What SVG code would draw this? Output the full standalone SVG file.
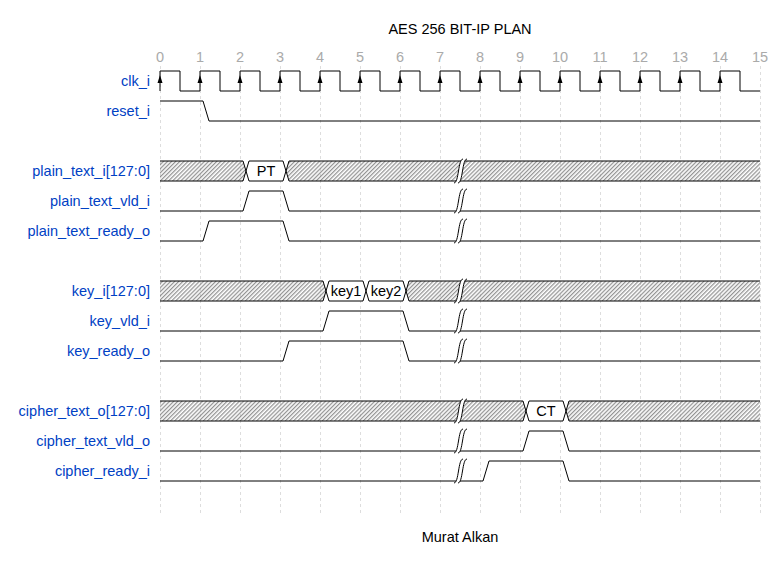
<svg xmlns="http://www.w3.org/2000/svg" xmlns:xlink="http://www.w3.org/1999/xlink" width="780" height="562" viewBox="0 0 780 562">
<style>
text{font-family:"Liberation Sans",Arial,sans-serif;font-size:14.5px}
.lbl{fill:#0041c4;text-anchor:end}
.tick{fill:#aaaaaa;text-anchor:middle}
.ttl{fill:#000;text-anchor:middle}
.dat{fill:#000;text-anchor:middle}
.grid{stroke:#dddddd;stroke-width:1;stroke-dasharray:3,3;fill:none}
.w{stroke:#000;stroke-width:1;fill:none}
.hx{fill:url(#hatch);stroke:none}
.dw{fill:#fff;stroke:none}
</style>
<defs>
<pattern id="hatch" patternUnits="userSpaceOnUse" width="2.9" height="10" patternTransform="rotate(45)">
<line x1="0.7" y1="-1" x2="0.7" y2="11" stroke="#777" stroke-width="1"/>
</pattern>
<g id="gap">
<path d="M-6,12 C-1,12 -2,-12 3,-12 L7,-12 C2,-12 3,12 -2,12 Z" fill="#fff" stroke="none"/>
<path d="M-6,12 C-1,12 -2,-12 3,-12 M-2,12 C3,12 2,-12 7,-12" fill="none" stroke="#000" stroke-width="1"/>
</g>
<path id="arr" d="M-2.5,83 L0,75 L2.5,83 Z" fill="#000"/>
</defs>
<rect width="780" height="562" fill="#fff"/>
<g id="title"><text class="ttl" x="460" y="34">AES 256 BIT-IP PLAN</text></g>
<g id="grid">
<path class="grid" d="M160.5,66V516M200.5,66V516M240.5,66V516M280.5,66V516M320.5,66V516M360.5,66V516M400.5,66V516M440.5,66V516M480.5,66V516M520.5,66V516M560.5,66V516M600.5,66V516M640.5,66V516M680.5,66V516M720.5,66V516M760.5,66V516"/>
</g>
<g id="ticks">
<text class="tick" x="160" y="62">0</text><text class="tick" x="200" y="62">1</text><text class="tick" x="240" y="62">2</text><text class="tick" x="280" y="62">3</text><text class="tick" x="320" y="62">4</text><text class="tick" x="360" y="62">5</text><text class="tick" x="400" y="62">6</text><text class="tick" x="440" y="62">7</text><text class="tick" x="480" y="62">8</text><text class="tick" x="520" y="62">9</text><text class="tick" x="560" y="62">10</text><text class="tick" x="600" y="62">11</text><text class="tick" x="640" y="62">12</text><text class="tick" x="680" y="62">13</text><text class="tick" x="720" y="62">14</text><text class="tick" x="760" y="62">15</text>
</g>
<g id="labels">
<text class="lbl" x="150" y="86">clk_i</text>
<text class="lbl" x="150" y="116">reset_i</text>
<text class="lbl" x="150" y="176">plain_text_i[127:0]</text>
<text class="lbl" x="150" y="206">plain_text_vld_i</text>
<text class="lbl" x="150" y="236">plain_text_ready_o</text>
<text class="lbl" x="150" y="296">key_i[127:0]</text>
<text class="lbl" x="150" y="326">key_vld_i</text>
<text class="lbl" x="150" y="356">key_ready_o</text>
<text class="lbl" x="150" y="416">cipher_text_o[127:0]</text>
<text class="lbl" x="150" y="446">cipher_text_vld_o</text>
<text class="lbl" x="150" y="476">cipher_ready_i</text>
</g>
<g id="clk_i">
<path class="w" d="M160,91V71H180V91H200V71H220V91H240V71H260V91H280V71H300V91H320V71H340V91H360V71H380V91H400V71H420V91H440V71H460V91H480V71H500V91H520V71H540V91H560V71H580V91H600V71H620V91H640V71H660V91H680V71H700V91H720V71H740V91H760"/>
<use xlink:href="#arr" x="160"/><use xlink:href="#arr" x="200"/><use xlink:href="#arr" x="240"/><use xlink:href="#arr" x="280"/><use xlink:href="#arr" x="320"/><use xlink:href="#arr" x="360"/><use xlink:href="#arr" x="400"/><use xlink:href="#arr" x="440"/><use xlink:href="#arr" x="480"/><use xlink:href="#arr" x="520"/><use xlink:href="#arr" x="560"/><use xlink:href="#arr" x="600"/><use xlink:href="#arr" x="640"/><use xlink:href="#arr" x="680"/><use xlink:href="#arr" x="720"/>
</g>
<g id="reset_i"><path class="w" d="M160,101H203L209,121H760"/></g>
<g id="plain_text_i">
<path class="hx" d="M160,161H243L246,171L243,181H160Z"/>
<path class="dw" d="M246,171L249,161H283L286,171L283,181H249Z"/>
<path class="hx" d="M286,171L289,161H760V181H289Z"/>
<path class="w" d="M160,161H243L246,171L249,161H283L286,171L289,161H760M160,181H243L246,171L249,181H283L286,171L289,181H760"/>
<text class="dat" x="266" y="176">PT</text>
<use xlink:href="#gap" x="460" y="171"/>
</g>
<g id="plain_text_vld_i"><path class="w" d="M160,211H243L249,191H283L289,211H760"/><use xlink:href="#gap" x="460" y="201"/></g>
<g id="plain_text_ready_o"><path class="w" d="M160,241H203L209,221H283L289,241H760"/><use xlink:href="#gap" x="460" y="231"/></g>
<g id="key_i">
<path class="hx" d="M160,281H323L326,291L323,301H160Z"/>
<path class="dw" d="M326,291L329,281H363L366,291L363,301H329Z"/>
<path class="dw" d="M366,291L369,281H403L406,291L403,301H369Z"/>
<path class="hx" d="M406,291L409,281H760V301H409Z"/>
<path class="w" d="M160,281H323L326,291L329,281H363L366,291L369,281H403L406,291L409,281H760M160,301H323L326,291L329,301H363L366,291L369,301H403L406,291L409,301H760"/>
<text class="dat" x="346" y="296">key1</text>
<text class="dat" x="386" y="296">key2</text>
<use xlink:href="#gap" x="460" y="291"/>
</g>
<g id="key_vld_i"><path class="w" d="M160,331H323L329,311H403L409,331H760"/><use xlink:href="#gap" x="460" y="321"/></g>
<g id="key_ready_o"><path class="w" d="M160,361H283L289,341H403L409,361H760"/><use xlink:href="#gap" x="460" y="351"/></g>
<g id="cipher_text_o">
<path class="hx" d="M160,401H523L526,411L523,421H160Z"/>
<path class="dw" d="M526,411L529,401H563L566,411L563,421H529Z"/>
<path class="hx" d="M566,411L569,401H760V421H569Z"/>
<path class="w" d="M160,401H523L526,411L529,401H563L566,411L569,401H760M160,421H523L526,411L529,421H563L566,411L569,421H760"/>
<text class="dat" x="546" y="416">CT</text>
<use xlink:href="#gap" x="460" y="411"/>
</g>
<g id="cipher_text_vld_o"><path class="w" d="M160,451H523L529,431H563L569,451H760"/><use xlink:href="#gap" x="460" y="441"/></g>
<g id="cipher_ready_i"><path class="w" d="M160,481H483L489,461H563L569,481H760"/><use xlink:href="#gap" x="460" y="471"/></g>
<g id="footer"><text class="ttl" x="460" y="542">Murat Alkan</text></g>
</svg>
